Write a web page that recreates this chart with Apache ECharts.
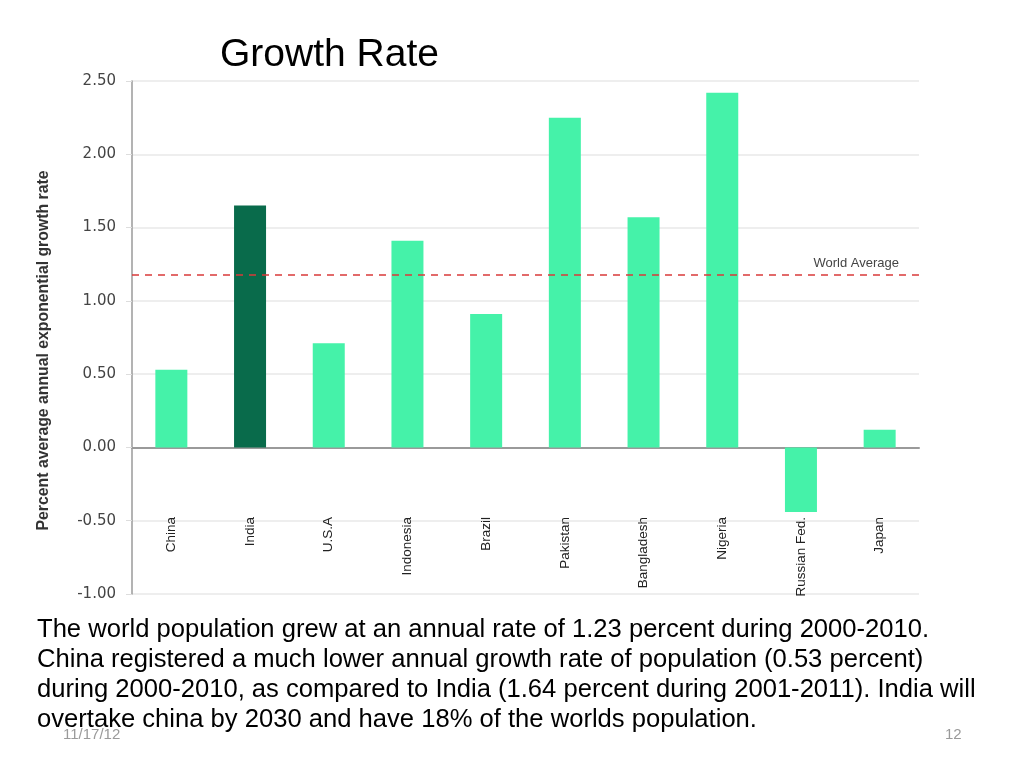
<!DOCTYPE html>
<html>
<head>
<meta charset="utf-8">
<style>
html,body{margin:0;padding:0;background:#fff;}
#chart{width:1024px;height:768px;}
</style>
<script src="https://cdn.jsdelivr.net/npm/echarts@6/dist/echarts.min.js"></script>
</head>
<body>
<div id="chart"></div>
<script>
const categories = ["China","India","U.S.A","Indonesia","Brazil","Pakistan","Bangladesh","Nigeria","Russian Fed.","Japan"];
const growthRates = [0.53, 1.65, 0.71, 1.41, 0.91, 2.25, 1.57, 2.42, -0.44, 0.12];
const highlighted = ["India"];
const worldAverage = 1.18;
const yTicks = [-1.0, 2.5, 0.5];
const titleText = "Growth Rate";
const bodyLines = [
  "The world population grew at an annual rate of 1.23 percent during 2000-2010.",
  "China registered a much lower annual growth rate of population (0.53 percent)",
  "during 2000-2010, as compared to India (1.64 percent during 2001-2011). India will",
  "overtake china by 2030 and have 18% of the worlds population."
];
const dateText = "11/17/12";
const pageText = "12";

const chart = echarts.init(document.getElementById('chart'));
const lightColor = '#45F2A9';
const darkColor = '#096B4B';

const graphics = bodyLines.map((line, i) => ({
  type: 'text', left: 37, top: 617 + i * 30,
  style: { text: line, font: '25.6px "Liberation Sans", Arial, sans-serif', fill: '#000' }
}));
graphics.push({ type: 'text', left: 63, top: 727, style: { text: dateText, font: '15px "Liberation Sans", Arial, sans-serif', fill: '#9a9a9a' } });
graphics.push({ type: 'text', left: 945, top: 727, style: { text: pageText, font: '15px "Liberation Sans", Arial, sans-serif', fill: '#9a9a9a' } });

chart.setOption({
  animation: false,
  title: {
    text: titleText, left: 215, top: 31,
    textStyle: { fontFamily: '"Liberation Sans", Arial, sans-serif', fontSize: 39, fontWeight: 'normal', color: '#000' }
  },
  grid: { left: 132, right: 105, top: 81, bottom: 174, containLabel: false },
  xAxis: {
    type: 'category', data: categories,
    axisLine: { onZero: true, lineStyle: { color: '#9a9a9a', width: 2 } },
    axisTick: { show: false },
    axisLabel: { rotate: 90, margin: -77, interval: 0, fontSize: 13.5, color: '#222', fontFamily: '"Liberation Sans", Arial, sans-serif' }
  },
  yAxis: {
    type: 'value', min: yTicks[0], max: yTicks[1], interval: yTicks[2],
    name: 'Percent average annual exponential growth rate',
    nameLocation: 'middle', nameGap: 80, nameRotate: 90,
    nameTextStyle: { fontWeight: 'bold', fontSize: 15.8, color: '#333', fontFamily: '"Liberation Sans", Arial, sans-serif', padding: [0, 26, 0, 0] },
    axisLine: { show: true, lineStyle: { color: '#9a9a9a', width: 1.5 } },
    axisTick: { show: true, length: 6, lineStyle: { color: '#ddd' } },
    splitLine: { show: true, lineStyle: { color: '#e8e8e8', width: 1.5 } },
    axisLabel: { margin: 16, fontSize: 15, color: '#444', fontFamily: '"DejaVu Sans", sans-serif', formatter: v => v.toFixed(2) }
  },
  series: [{
    type: 'bar', barWidth: 32,
    data: growthRates.map((v, i) => ({
      value: v,
      itemStyle: { color: highlighted.includes(categories[i]) ? darkColor : lightColor }
    })),
    markLine: {
      silent: true, symbol: 'none',
      lineStyle: { color: '#d93a3a', type: [7, 6], width: 1.5 },
      label: { position: 'insideEndTop', formatter: 'World Average', color: '#444', fontSize: 13, distance: [20, 5], fontFamily: '"Liberation Sans", Arial, sans-serif' },
      data: [{ yAxis: worldAverage }]
    }
  }],
  graphic: graphics
});
</script>
</body>
</html>
